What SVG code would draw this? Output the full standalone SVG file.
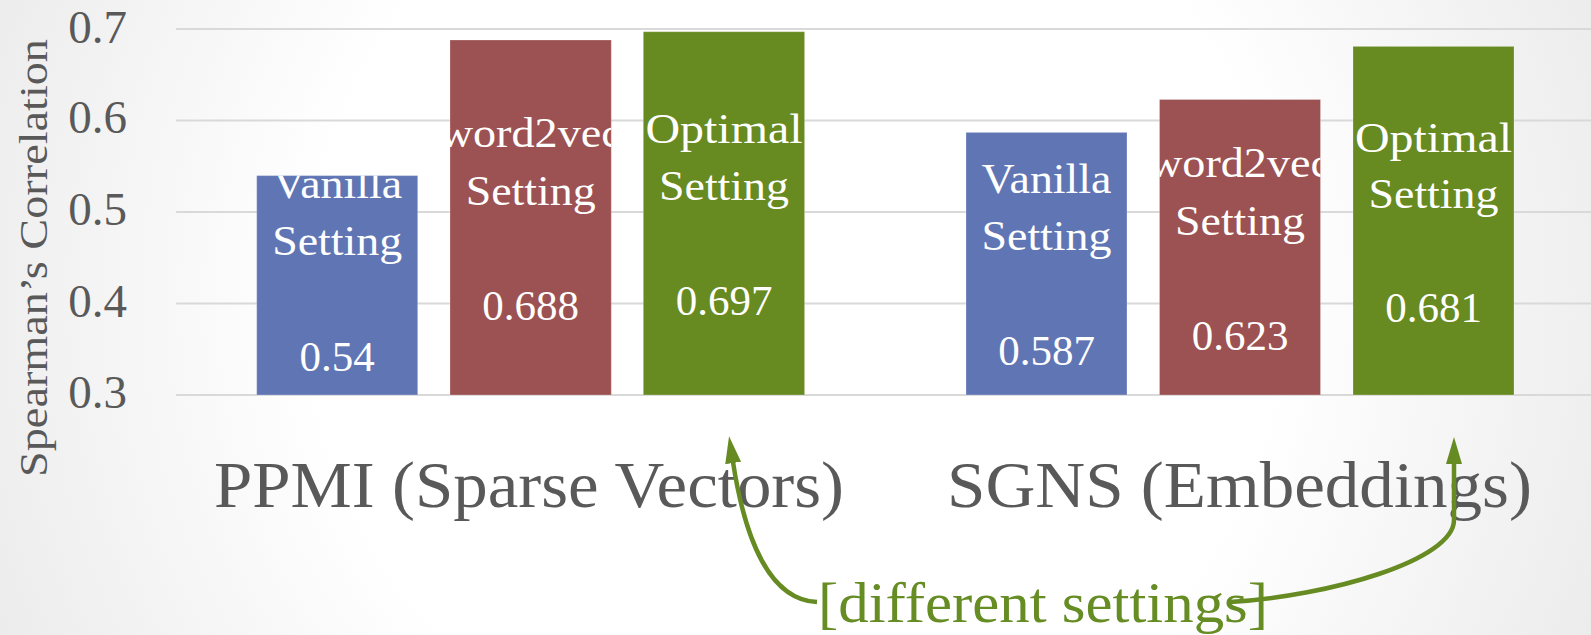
<svg xmlns="http://www.w3.org/2000/svg" width="1591" height="635" viewBox="0 0 1591 635">
<style>
.grid{stroke:#d9d9d9;stroke-width:2;fill:none}
.tick{font-family:"Liberation Serif",serif;font-size:47px;fill:#595959;text-anchor:end}
.ttl{font-family:"Liberation Serif",serif;font-size:40px;fill:#595959;text-anchor:middle}
.cat{font-family:"Liberation Serif",serif;font-size:65px;fill:#595959}
.lbl{font-family:"Liberation Serif",serif;font-size:43px;fill:#ffffff;text-anchor:middle}
.blue{fill:#6076b4}
.red{fill:#9c5152}
.green{fill:#678a21}
.bar{stroke:#ffffff;stroke-opacity:0.25;stroke-width:1}
.conn{fill:none;stroke:#658b22;stroke-width:4.5}
.note{font-family:"Liberation Serif",serif;font-size:57px;fill:#668c24}
</style>
<defs>
<radialGradient id="bg" gradientUnits="userSpaceOnUse" cx="795" cy="300" r="880">
<stop offset="0" stop-color="#ffffff"/>
<stop offset="0.55" stop-color="#ffffff"/>
<stop offset="1" stop-color="#ebebeb"/>
</radialGradient>
<marker id="ah" markerUnits="userSpaceOnUse" markerWidth="30" markerHeight="18" refX="1" refY="8" orient="auto" viewBox="0 0 30 16">
<path d="M0,0 L27,8 L0,16 Z" fill="#658b22"/>
</marker>
<clipPath id="c1"><rect x="256.7" y="175.6" width="161" height="219.4"/></clipPath>
<clipPath id="c2"><rect x="450" y="40" width="161.3" height="355"/></clipPath>
<clipPath id="c3"><rect x="643.3" y="31.7" width="161.3" height="363.3"/></clipPath>
<clipPath id="c4"><rect x="966" y="132.4" width="161" height="262.6"/></clipPath>
<clipPath id="c5"><rect x="1159.5" y="99.5" width="161" height="295.5"/></clipPath>
<clipPath id="c6"><rect x="1353" y="46.4" width="161" height="348.6"/></clipPath>
</defs>
<rect x="0" y="0" width="1591" height="635" fill="url(#bg)"/>
<g id="gridlines">
<line class="grid" x1="176" y1="29" x2="1591" y2="29"/>
<line class="grid" x1="176" y1="120.5" x2="1591" y2="120.5"/>
<line class="grid" x1="176" y1="212" x2="1591" y2="212"/>
<line class="grid" x1="176" y1="303.5" x2="1591" y2="303.5"/>
<line class="grid" x1="176" y1="395" x2="1591" y2="395"/>
</g>
<g id="y-axis">
<text class="tick" x="127" y="43.3">0.7</text>
<text class="tick" x="127" y="133.3">0.6</text>
<text class="tick" x="127" y="225">0.5</text>
<text class="tick" x="127" y="316.7">0.4</text>
<text class="tick" x="127" y="408.3">0.3</text>
<text class="ttl" transform="translate(46.5,258) rotate(-90)" textLength="438" lengthAdjust="spacingAndGlyphs">Spearman’s Correlation</text>
</g>
<g id="bar-ppmi-vanilla">
<rect class="bar blue" x="256.7" y="175.6" width="161" height="219.4"/>
<g clip-path="url(#c1)">
<text class="lbl" x="337.2" y="198.3" textLength="130" lengthAdjust="spacingAndGlyphs">Vanilla</text>
<text class="lbl" x="337.2" y="255" textLength="130" lengthAdjust="spacingAndGlyphs">Setting</text>
<text class="lbl" x="337.2" y="370.7">0.54</text>
</g>
</g>
<g id="bar-ppmi-word2vec">
<rect class="bar red" x="450" y="40" width="161.3" height="355"/>
<g clip-path="url(#c2)">
<text class="lbl" x="530.7" y="146.7" textLength="182" lengthAdjust="spacingAndGlyphs">word2vec</text>
<text class="lbl" x="530.7" y="205" textLength="130" lengthAdjust="spacingAndGlyphs">Setting</text>
<text class="lbl" x="530.7" y="320">0.688</text>
</g>
</g>
<g id="bar-ppmi-optimal">
<rect class="bar green" x="643.3" y="31.7" width="161.3" height="363.3"/>
<g clip-path="url(#c3)">
<text class="lbl" x="724" y="143.3" textLength="157" lengthAdjust="spacingAndGlyphs">Optimal</text>
<text class="lbl" x="724" y="200" textLength="130" lengthAdjust="spacingAndGlyphs">Setting</text>
<text class="lbl" x="724" y="315">0.697</text>
</g>
</g>
<g id="bar-sgns-vanilla">
<rect class="bar blue" x="966" y="132.4" width="161" height="262.6"/>
<g clip-path="url(#c4)">
<text class="lbl" x="1046.5" y="193.3" textLength="130" lengthAdjust="spacingAndGlyphs">Vanilla</text>
<text class="lbl" x="1046.5" y="250" textLength="130" lengthAdjust="spacingAndGlyphs">Setting</text>
<text class="lbl" x="1046.5" y="365">0.587</text>
</g>
</g>
<g id="bar-sgns-word2vec">
<rect class="bar red" x="1159.5" y="99.5" width="161" height="295.5"/>
<g clip-path="url(#c5)">
<text class="lbl" x="1240" y="176.7" textLength="182" lengthAdjust="spacingAndGlyphs">word2vec</text>
<text class="lbl" x="1240" y="235" textLength="130" lengthAdjust="spacingAndGlyphs">Setting</text>
<text class="lbl" x="1240" y="350">0.623</text>
</g>
</g>
<g id="bar-sgns-optimal">
<rect class="bar green" x="1353" y="46.4" width="161" height="348.6"/>
<g clip-path="url(#c6)">
<text class="lbl" x="1433.5" y="151.7" textLength="157" lengthAdjust="spacingAndGlyphs">Optimal</text>
<text class="lbl" x="1433.5" y="208.3" textLength="130" lengthAdjust="spacingAndGlyphs">Setting</text>
<text class="lbl" x="1433.5" y="321.7">0.681</text>
</g>
</g>
<g id="category-labels">
<text class="cat" x="214" y="507" textLength="630" lengthAdjust="spacingAndGlyphs">PPMI (Sparse Vectors)</text>
<text class="cat" x="947" y="507" textLength="585" lengthAdjust="spacingAndGlyphs">SGNS (Embeddings)</text>
</g>
<g id="note">
<text class="note" x="818" y="621.7" textLength="450" lengthAdjust="spacingAndGlyphs">[different settings]</text>
</g>
<g id="connectors">
<path class="conn" d="M817,602 C770,600 745,540 733,462" marker-end="url(#ah)"/>
<path class="conn" d="M1230,602 C1330,596 1454,560 1454,520 L1454,463" marker-end="url(#ah)"/>
</g>
</svg>
